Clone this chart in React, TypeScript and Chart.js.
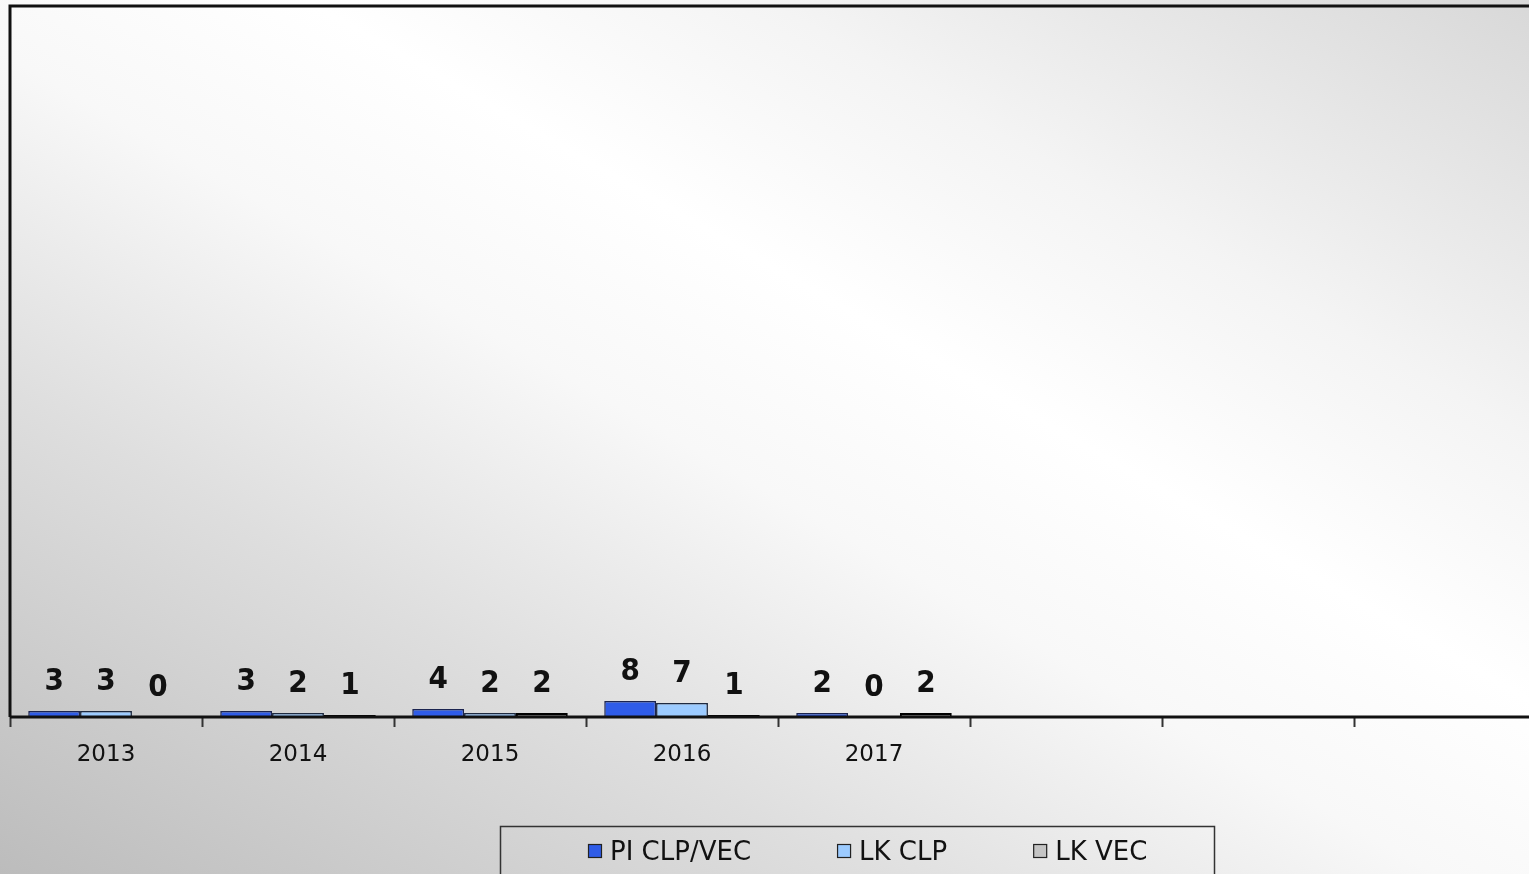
import React, { useEffect, useRef } from "react";
import { Chart, registerables } from "chart.js";

Chart.register(...registerables);

const categories = ["2013", "2014", "2015", "2016", "2017", "", "", ""];
const piClpVec = [3, 3, 4, 8, 2, null, null, null];
const lkClp = [3, 2, 2, 7, 0, null, null, null];
const lkVec = [0, 1, 2, 1, 2, null, null, null];
const seriesNames = ["PI CLP/VEC", "LK CLP", "LK VEC"];
const fillColors = ["#2f5ce8", "#9ccbff", "#8a8a8a"];
const legendFills = ["#2f5ce8", "#9ccbff", "#c4c4c4"];
const yMax = 355;

const W = 1560;
const H = 874;

const framePlugin = {
  id: "frame",
  afterDatasetsDraw(chart: any) {
    const { ctx, chartArea } = chart;
    ctx.save();
    ctx.strokeStyle = "#111";
    ctx.lineWidth = 3;
    ctx.beginPath();
    ctx.moveTo(chartArea.left, chartArea.bottom);
    ctx.lineTo(chartArea.left, chartArea.top);
    ctx.lineTo(chartArea.right + 20, chartArea.top);
    ctx.stroke();
    ctx.beginPath();
    ctx.moveTo(chartArea.left, chartArea.bottom);
    ctx.lineTo(chartArea.right + 20, chartArea.bottom);
    ctx.stroke();
    ctx.restore();
  },
};

const labelPlugin = {
  id: "valueLabels",
  afterDatasetsDraw(chart: any) {
    const { ctx } = chart;
    ctx.save();
    ctx.font = "bold 31px 'DejaVu Sans'";
    try {
      (ctx as any).fontStretch = "condensed";
    } catch (e) {}
    ctx.fillStyle = "#111";
    ctx.textAlign = "center";
    ctx.textBaseline = "middle";
    chart.data.datasets.forEach((ds: any, di: number) => {
      const meta = chart.getDatasetMeta(di);
      meta.data.forEach((bar: any, i: number) => {
        const v = ds.data[i];
        if (v === null || v === undefined) return;
        ctx.fillText(String(v), bar.x, bar.y - 29);
      });
    });
    ctx.restore();
  },
};

const legendPlugin = {
  id: "boxLegend",
  afterDraw(chart: any) {
    const { ctx } = chart;
    ctx.save();
    ctx.strokeStyle = "#333";
    ctx.lineWidth = 1.5;
    ctx.strokeRect(500.5, 826.5, 714, 100);
    ctx.font = "26px 'DejaVu Sans'";
    ctx.textBaseline = "middle";
    ctx.textAlign = "left";
    let x = 588;
    const cy = 851;
    seriesNames.forEach((name, i) => {
      ctx.fillStyle = legendFills[i];
      ctx.fillRect(x, cy - 7, 14, 14);
      ctx.strokeStyle = "#222";
      ctx.lineWidth = 1.2;
      ctx.strokeRect(x + 0.5, cy - 6.5, 13, 13);
      ctx.fillStyle = "#111";
      ctx.fillText(name, x + 22, cy + 2);
      x += 22 + ctx.measureText(name).width + 86;
    });
    ctx.restore();
  },
};

export default function App() {
  const ref = useRef<HTMLCanvasElement | null>(null);

  useEffect(() => {
    document.body.style.margin = "0";
    if (!ref.current) return;
    const chart = new Chart(ref.current, {
      type: "bar",
      data: {
        labels: categories,
        datasets: [
          { label: seriesNames[0], data: piClpVec, backgroundColor: fillColors[0], borderColor: "#1b2450", borderWidth: 1.5 },
          { label: seriesNames[1], data: lkClp, backgroundColor: fillColors[1], borderColor: "#1e2a40", borderWidth: 1.5 },
          { label: seriesNames[2], data: lkVec, backgroundColor: fillColors[2], borderColor: "#000", borderWidth: 2 },
        ] as any,
      },
      options: {
        animation: false,
        responsive: false,
        maintainAspectRatio: false,
        devicePixelRatio: 1,
        layout: { padding: { left: 10, top: 6, right: 14, bottom: 97 } },
        datasets: { bar: { categoryPercentage: 0.81, barPercentage: 1.0 } } as any,
        plugins: {
          legend: { display: false },
          tooltip: { enabled: false },
        },
        scales: {
          x: {
            offset: true,
            grid: {
              offset: true,
              drawOnChartArea: false,
              drawTicks: true,
              tickLength: 10,
              tickWidth: 2,
              tickColor: "#333",
            },
            border: { display: false },
            ticks: {
              color: "#111",
              padding: 14,
              font: { family: "'DejaVu Sans'", size: 23 },
              maxRotation: 0,
              autoSkip: false,
            },
            afterFit: (scale: any) => {
              scale.height = 60;
            },
          },
          y: {
            display: false,
            min: 0,
            max: yMax,
          },
        },
      },
      plugins: [framePlugin, labelPlugin, legendPlugin],
    });
    return () => chart.destroy();
  }, []);

  return (
    <div
      style={{
        position: "fixed",
        left: 0,
        top: 0,
        width: 1529,
        height: 874,
        overflow: "hidden",
        background:
          "linear-gradient(to top right, #bcbcbc 0%, #dedede 28%, #f8f8f8 47%, #ffffff 60%, #f4f4f4 75%, #d8d8d8 100%)",
      }}
    >
      <canvas ref={ref} width={W} height={H} style={{ display: "block", width: W, height: H }} />
    </div>
  );
}
